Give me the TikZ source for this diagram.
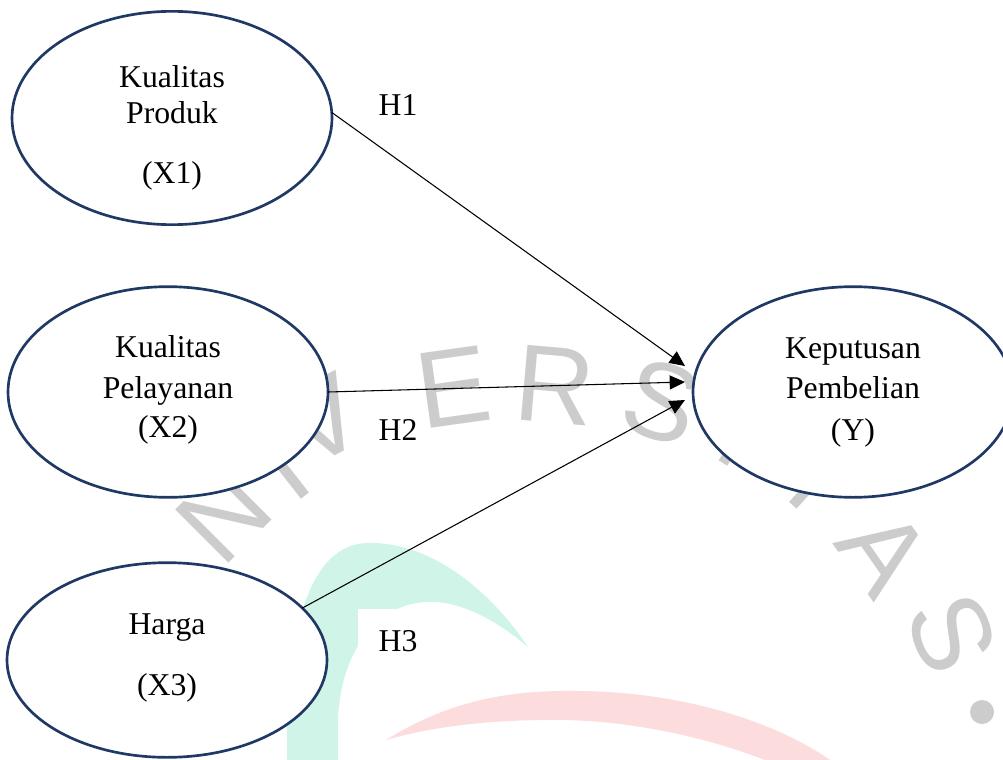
\documentclass[tikz,border=0pt]{standalone}
\usepackage{fontspec}
\setmainfont{Liberation Serif}
\newfontfamily\wmfont{Liberation Sans}
\usetikzlibrary{shapes.geometric,arrows.meta}
\definecolor{navy}{RGB}{31,56,100}
\definecolor{wmgray}{RGB}{204,204,204}
\definecolor{wmgreen}{RGB}{208,245,232}
\definecolor{wmpink}{RGB}{252,220,221}
\begin{document}
\begin{tikzpicture}[x=0.75pt,y=-0.75pt,
  var/.style={draw=navy,line width=2pt,fill=white,ellipse,minimum width=240pt,inner sep=0pt,outer sep=0pt},
  lbl/.style={anchor=base,font=\fontsize{23.8}{28}\selectfont,inner sep=0pt},
  hyp/.style={anchor=base,font=\fontsize{23.8}{28}\selectfont,inner sep=0pt},
  conn/.style={draw=black,line width=0.8pt,-{Triangle[length=11.5pt,width=10.5pt]}},
  wm/.style={text=wmgray,font=\wmfont\fontsize{82}{90}\selectfont,inner sep=0pt}
]
\useasboundingbox (0,0) rectangle (1003,760);
\clip (0,0) rectangle (1003,760);
\fill[white] (0,0) rectangle (1003,760);

% watermark
\fill[wmgreen] (287,760) .. controls (285,660) and (300,545) .. (367,543)
  .. controls (430,541) and (490,590) .. (528,647)
  .. controls (490,615) and (455,600) .. (425,602)
  .. controls (370,606) and (340,660) .. (338,720) -- (338,760) -- cycle;
\fill[wmpink] (386,740) .. controls (450,700) and (510,690) .. (578,691)
  .. controls (690,692) and (780,725) .. (830,760) -- (765,760)
  .. controls (700,735) and (620,718) .. (540,720)
  .. controls (470,721) and (420,730) .. (386,740) -- cycle;
\node[wm,rotate=45] (wN) at (224,515) {N};
\node[wm,rotate=38] (wI) at (282,467) {I};
\node[wm,rotate=28] (wV) at (322,420) {V};
\node[wm,rotate=8] (wE) at (453,387) {E};
\node[wm,rotate=-5] (wR) at (555,385) {R};
\node[wm,rotate=-18] (wS) at (662,402) {S};
\node[wm,rotate=-32] (wI2) at (743,432) {I};
\node[wm,rotate=-42] (wT) at (818,478) {T};
\node[wm,rotate=-55] (wA) at (884,552) {A};
\node[wm,rotate=-68] (wS2) at (952,633) {S};
\fill[wmgray] (982,712) circle (12);

% variables
\node[var,minimum height=160pt] (x1) at (172,118) {};
\node[var,minimum height=158pt] (x2) at (168,392) {};
\node[var,minimum height=146pt] (x3) at (167,660) {};
\node[var,minimum height=158pt] (y) at (853,392) {};

\node[lbl] (x1a) at (172,87) {Kualitas};
\node[lbl] (x1b) at (172,123) {Produk};
\node[lbl] (x1c) at (172,183) {(X1)};
\node[lbl] (x2a) at (168,357) {Kualitas};
\node[lbl] (x2b) at (168,398) {Pelayanan};
\node[lbl] (x2c) at (168,437) {(X2)};
\node[lbl] (x3a) at (167,634) {Harga};
\node[lbl] (x3b) at (167,695) {(X3)};
\node[lbl] (ya) at (853,358) {Keputusan};
\node[lbl] (yb) at (853,398) {Pembelian};
\node[lbl] (yc) at (853,440) {(Y)};

% hypotheses
\node[hyp] (h1) at (398,115) {H1};
\node[hyp] (h2) at (398,440) {H2};
\node[hyp,fill=white,inner sep=15.75pt] (h3) at (398,651) {H3};

\coordinate (t1) at (685,366);
\coordinate (t2) at (685,382);
\coordinate (t3) at (685,400);
\draw[conn] (x1.2) -- (t1);
\draw[conn] (x2.east) -- (t2);
\draw[conn] (x3.21) -- (t3);
\end{tikzpicture}
\end{document}
